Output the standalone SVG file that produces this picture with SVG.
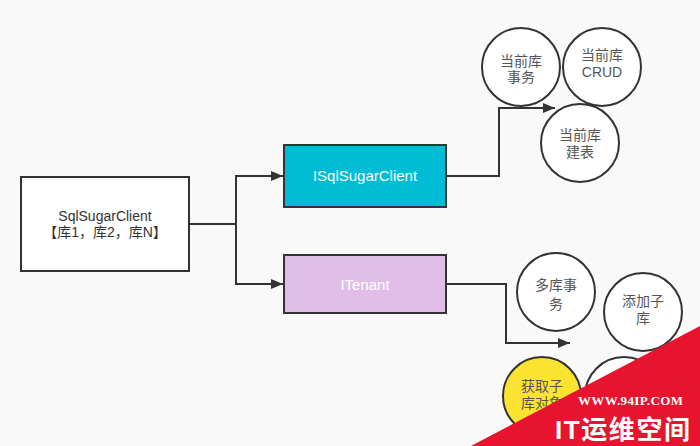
<svg xmlns="http://www.w3.org/2000/svg" width="700" height="446" viewBox="0 0 700 446">
<style>
  .box { stroke:#333333; stroke-width:2; }
  .circ { fill:#ffffff; stroke:#333333; stroke-width:2; }
  .t { font-family:"Liberation Sans","Noto Sans CJK SC",sans-serif; font-size:14px; text-anchor:middle; fill:#333333; }
  .ct { font-family:"Liberation Sans","Noto Sans CJK SC",sans-serif; font-size:14px; text-anchor:middle; fill:#555555; }
  .wt { font-family:"Liberation Sans","Noto Sans CJK SC",sans-serif; font-size:15px; text-anchor:middle; fill:#ffffff; }
  .edge { fill:none; stroke:#333333; stroke-width:2; }
</style>
<defs>
  <marker id="arr" viewBox="0 0 12 10" refX="12" refY="5" markerWidth="12" markerHeight="10" markerUnits="userSpaceOnUse" orient="auto">
    <path d="M0,0 L12,5 L0,10 Z" fill="#333333"/>
  </marker>
</defs>
<rect width="700" height="446" fill="#f9f9f9"/>

<g id="connectors">
  <path class="edge" d="M189,224 H236 V176 H283" marker-end="url(#arr)"/>
  <path class="edge" d="M236,224 V284 H283" marker-end="url(#arr)"/>
  <path class="edge" d="M446,176 H499 V108 H555" marker-end="url(#arr)"/>
  <path class="edge" d="M446,284 H506 V343 H570" marker-end="url(#arr)"/>
</g>

<g id="sqlsugarclient">
  <rect class="box" x="21" y="177" width="168" height="94" fill="#ffffff"/>
  <text class="t" x="105" y="221" font-size="15">SqlSugarClient</text>
  <text class="t" x="105" y="237">【库1，库2，库N】</text>
</g>

<g id="isqlsugarclient">
  <rect class="box" x="284" y="145" width="162" height="62" fill="#00bcd4"/>
  <text class="wt" x="365" y="181">ISqlSugarClient</text>
</g>

<g id="itenant">
  <rect class="box" x="284" y="255" width="162" height="58" fill="#e1bee7"/>
  <text class="wt" x="365" y="290">ITenant</text>
</g>

<g id="cur-tx">
  <circle class="circ" cx="521" cy="67" r="39"/>
  <text class="ct" x="521" y="66">当前库</text>
  <text class="ct" x="521" y="82">事务</text>
</g>

<g id="cur-crud">
  <circle class="circ" cx="602" cy="67" r="39"/>
  <text class="ct" x="602" y="60">当前库</text>
  <text class="ct" x="602" y="77" font-size="15">CRUD</text>
</g>

<g id="cur-table">
  <circle class="circ" cx="580" cy="143" r="39"/>
  <text class="ct" x="580" y="140">当前库</text>
  <text class="ct" x="580" y="157">建表</text>
</g>

<g id="multi-tx">
  <circle class="circ" cx="556" cy="292" r="39"/>
  <text class="ct" x="556" y="290">多库事</text>
  <text class="ct" x="556" y="309">务</text>
</g>

<g id="add-sub">
  <circle class="circ" cx="643" cy="312" r="39"/>
  <text class="ct" x="643" y="306">添加子</text>
  <text class="ct" x="643" y="323">库</text>
</g>

<g id="get-sub">
  <circle class="box" cx="542" cy="396" r="39" fill="#fbe32f"/>
  <text class="ct" x="542" y="391" fill="#444444">获取子</text>
  <text class="ct" x="542" y="408" fill="#444444">库对象</text>
</g>

<g id="hidden-node">
  <circle class="circ" cx="624" cy="396" r="39"/>
</g>

<g id="watermark">
  <polygon points="700,326 700,446 471,446" fill="#e8132e"/>
  <text x="578" y="405" font-family="Liberation Serif,serif" font-weight="bold" font-size="13" fill="#ffffff" textLength="105" lengthAdjust="spacing">WWW.94IP.COM</text>
  <text x="555" y="439" font-family="Liberation Sans,Noto Sans CJK SC,sans-serif" font-weight="bold" font-size="26" fill="#ffffff" textLength="135" lengthAdjust="spacing">IT运维空间</text>
</g>
</svg>
